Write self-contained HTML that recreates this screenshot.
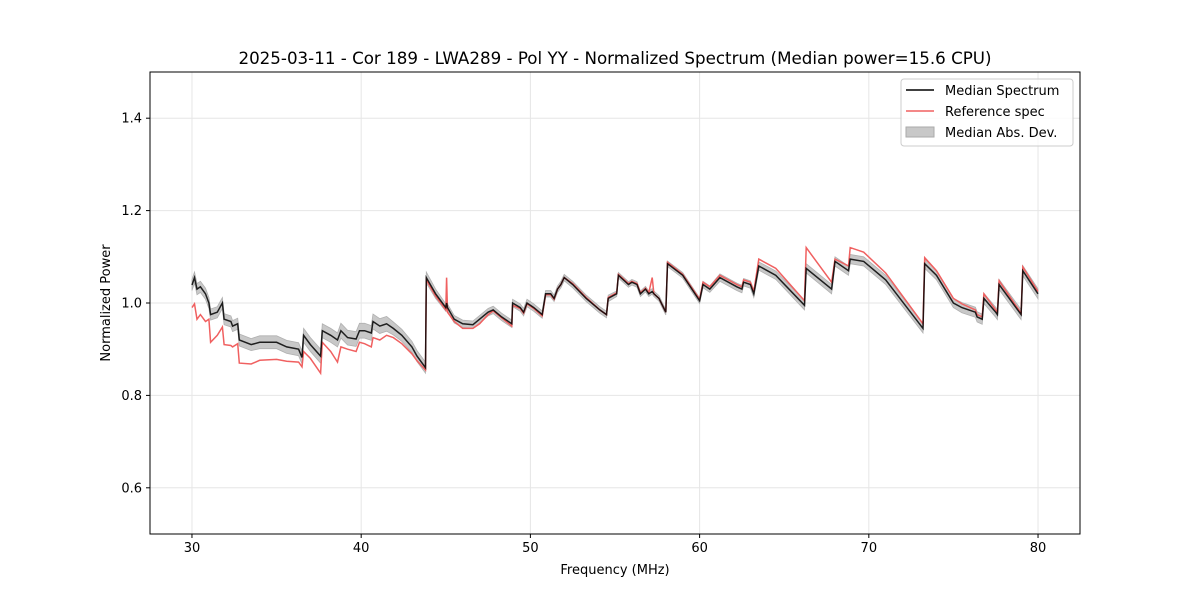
<!DOCTYPE html>
<html><head><meta charset="utf-8">
<style>
body{margin:0;background:#fff;font-family:"Liberation Sans","DejaVu Sans",sans-serif}
svg text{font-family:"DejaVu Sans","Liberation Sans",sans-serif}
</style></head>
<body>
<svg id="chart" width="1200" height="600" viewBox="0 0 1200 600" xmlns="http://www.w3.org/2000/svg">
<rect width="1200" height="600" fill="#fff"/>
<g id="grid"></g>
<g id="series"></g>
<rect x="150" y="72" width="930" height="462" fill="none" stroke="#000" stroke-width="1"/>
<g id="axes"></g>
<text x="615" y="64" text-anchor="middle" font-size="16.7">2025-03-11 - Cor 189 - LWA289 - Pol YY - Normalized Spectrum (Median power=15.6 CPU)</text>
<text x="615" y="574" text-anchor="middle" font-size="13">Frequency (MHz)</text>
<text x="110" y="303" text-anchor="middle" font-size="13" transform="rotate(-90 110 303)">Normalized Power</text>
<g>
<rect x="901" y="79" width="172" height="67" rx="3" fill="#fff" fill-opacity="0.8" stroke="#ccc"/>
<g><line x1="906" y1="90" x2="934" y2="90" stroke="#000" stroke-width="1.5"/><text x="945" y="95" font-size="13">Median Spectrum</text></g>
<g><line x1="906" y1="111" x2="934" y2="111" stroke="#f06060" stroke-width="1.5"/><text x="945" y="116" font-size="13">Reference spec</text></g>
<g><rect x="906" y="127" width="28" height="10" fill="#c8c8c8" stroke="#aaa"/><text x="945" y="137" font-size="13">Median Abs. Dev.</text></g>
</g>
</svg>
<script>
const freqs=[30.0,30.15,30.3,30.5,30.8,31.0,31.1,31.5,31.8,31.9,32.3,32.4,32.7,32.8,33.5,34,35,35.6,36.3,36.5,36.6,37.0,37.6,37.7,38.2,38.6,38.8,39.2,39.7,39.9,40.2,40.6,40.7,41.1,41.5,41.9,42.4,43.0,43.3,43.8,43.85,44.4,45.0,45.05,45.1,45.5,46.0,46.6,47.0,47.5,47.8,48.3,48.9,48.95,49.4,49.6,49.8,50.2,50.7,50.9,51.2,51.4,51.6,51.8,52.0,52.5,53.3,54.1,54.5,54.6,55.1,55.2,55.8,56.0,56.3,56.5,56.8,57.0,57.2,57.3,57.6,58.0,58.1,59,60,60.2,60.6,61.2,62.2,62.5,62.6,63.0,63.2,63.5,64.5,66.2,66.3,67.8,68,68.8,68.9,69.7,71,73.2,73.3,74,75,75.5,76.3,76.4,76.7,76.8,77.5,77.6,77.7,79.0,79.1,80];
const medianValues=[1.039,1.055,1.030,1.035,1.020,1.000,0.975,0.980,1.000,0.965,0.960,0.950,0.955,0.920,0.910,0.915,0.915,0.905,0.900,0.882,0.930,0.910,0.885,0.940,0.930,0.920,0.940,0.925,0.922,0.940,0.940,0.935,0.960,0.950,0.955,0.945,0.930,0.905,0.885,0.860,1.055,1.020,0.990,1.000,0.990,0.965,0.955,0.953,0.965,0.980,0.985,0.970,0.955,1.000,0.990,0.980,1.000,0.990,0.975,1.020,1.020,1.010,1.030,1.040,1.055,1.040,1.010,0.985,0.975,1.010,1.020,1.060,1.040,1.045,1.040,1.020,1.030,1.020,1.025,1.020,1.010,0.980,1.085,1.060,1.005,1.040,1.030,1.055,1.035,1.030,1.045,1.040,1.020,1.080,1.060,0.995,1.075,1.030,1.090,1.070,1.095,1.090,1.050,0.945,1.085,1.060,1.000,0.990,0.980,0.970,0.965,1.010,0.980,0.975,1.040,0.975,1.070,1.020];
const refValues=[0.990,0.998,0.965,0.975,0.960,0.965,0.915,0.930,0.948,0.910,0.908,0.905,0.912,0.870,0.868,0.876,0.878,0.874,0.872,0.862,0.895,0.880,0.848,0.915,0.895,0.872,0.905,0.900,0.895,0.915,0.912,0.905,0.925,0.920,0.930,0.925,0.912,0.890,0.875,0.855,1.050,1.015,0.985,1.055,0.980,0.960,0.945,0.945,0.955,0.975,0.983,0.968,0.950,0.995,0.988,0.978,0.998,0.988,0.972,1.018,1.018,1.008,1.030,1.040,1.055,1.042,1.012,0.985,0.975,1.012,1.022,1.062,1.042,1.047,1.042,1.022,1.032,1.022,1.055,1.020,1.010,0.980,1.088,1.062,1.008,1.045,1.035,1.060,1.040,1.035,1.050,1.045,1.025,1.095,1.075,1.005,1.120,1.045,1.095,1.080,1.120,1.110,1.065,0.955,1.098,1.070,1.010,0.998,0.985,0.975,0.970,1.020,0.985,0.980,1.048,0.978,1.078,1.025];
const madValues=[0.012,0.012,0.012,0.012,0.012,0.012,0.012,0.012,0.012,0.012,0.012,0.012,0.012,0.013,0.013,0.014,0.014,0.014,0.014,0.014,0.015,0.015,0.015,0.015,0.015,0.015,0.016,0.016,0.016,0.016,0.016,0.016,0.016,0.016,0.016,0.014,0.013,0.012,0.012,0.012,0.012,0.010,0.008,0.008,0.008,0.008,0.008,0.008,0.008,0.008,0.008,0.008,0.008,0.008,0.008,0.008,0.008,0.008,0.008,0.007,0.007,0.007,0.007,0.007,0.007,0.007,0.007,0.007,0.007,0.007,0.006,0.006,0.006,0.006,0.006,0.006,0.006,0.006,0.006,0.006,0.006,0.006,0.006,0.006,0.006,0.007,0.007,0.008,0.008,0.008,0.008,0.008,0.008,0.009,0.009,0.010,0.010,0.010,0.010,0.010,0.010,0.010,0.010,0.010,0.010,0.010,0.010,0.011,0.011,0.011,0.011,0.011,0.011,0.011,0.011,0.011,0.011,0.011];
const xTicks=[30,40,50,60,70,80];
const yTicks=[0.6,0.8,1.0,1.2,1.4];
const yTickLabels=["0.6","0.8","1.0","1.2","1.4"];

const X0=150,X1=1080,Y0=72,Y1=534,XMIN=27.52,XMAX=82.48,YMIN=0.5,YMAX=1.5;
const sx=f=>X0+(f-XMIN)/(XMAX-XMIN)*(X1-X0);
const sy=v=>Y1-(v-YMIN)/(YMAX-YMIN)*(Y1-Y0);
const NS="http://www.w3.org/2000/svg";
function mk(tag,attrs,parent){const e=document.createElementNS(NS,tag);for(const k in attrs)e.setAttribute(k,attrs[k]);parent.appendChild(e);return e;}
const grid=document.getElementById('grid'),axes=document.getElementById('axes'),ser=document.getElementById('series');
xTicks.forEach(t=>{
  const g=mk('line',{x1:sx(t),x2:sx(t),y1:Y0,y2:Y1,stroke:'#e6e6e6','stroke-width':1},grid);
  
  
  const tk=mk('line',{x1:sx(t),x2:sx(t),y1:Y1,y2:Y1+4,stroke:'#000'},axes);
  
  
  const tx=mk('text',{x:sx(t),y:Y1+18,'text-anchor':'middle','font-size':13},axes);
  tx.textContent=String(t);
  
  
});
yTicks.forEach((t,i)=>{
  const g=mk('line',{x1:X0,x2:X1,y1:sy(t),y2:sy(t),stroke:'#e6e6e6','stroke-width':1},grid);
  
  
  const tk=mk('line',{x1:X0-4,x2:X0,y1:sy(t),y2:sy(t),stroke:'#000'},axes);
  
  
  const tx=mk('text',{x:X0-8,y:sy(t)+4.5,'text-anchor':'end','font-size':13},axes);
  tx.textContent=yTickLabels[i];
  
  
});
let up=freqs.map((f,i)=>sx(f).toFixed(1)+','+sy(medianValues[i]+madValues[i]).toFixed(1));
let dn=freqs.map((f,i)=>sx(f).toFixed(1)+','+sy(medianValues[i]-madValues[i]).toFixed(1)).reverse();
const band=mk('polygon',{points:up.concat(dn).join(' '),fill:'#c8c8c8',stroke:'#b0b0b0','stroke-width':0.8},ser);


const ref=mk('polyline',{points:freqs.map((f,i)=>sx(f).toFixed(1)+','+sy(refValues[i]).toFixed(1)).join(' '),fill:'none',stroke:'#f06060','stroke-width':1.5},ser);


const med=mk('polyline',{points:freqs.map((f,i)=>sx(f).toFixed(1)+','+sy(medianValues[i]).toFixed(1)).join(' '),fill:'none',stroke:'#000','stroke-width':1.5,'stroke-opacity':0.85},ser);


</script>
</body></html>
